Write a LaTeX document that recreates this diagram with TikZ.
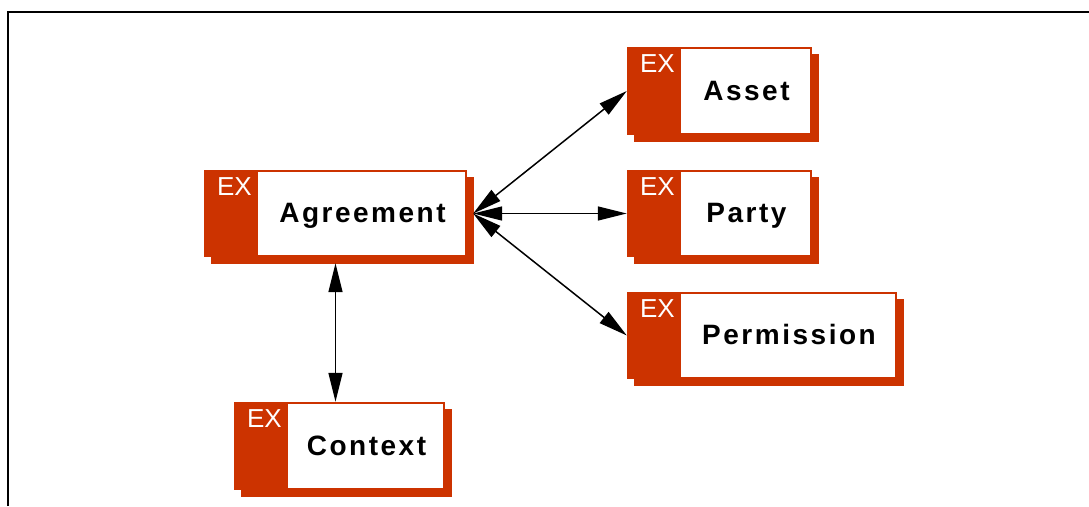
\documentclass[tikz,border=0pt]{standalone}
\usepackage{fontspec}
\setmainfont{Liberation Sans}
\usepackage{xcolor}
\usepackage{tikz}
\usetikzlibrary{arrows.meta, shadows}

\definecolor{exred}{RGB}{204,51,0}

\tikzset{
  exbox/.style={rectangle, fill=exred, inner sep=0pt, minimum height=87pt,
    drop shadow={shadow xshift=7pt, shadow yshift=-7pt, fill=exred, opacity=1},
    path picture={
      \fill[white] ([xshift=54pt,yshift=-2pt]path picture bounding box.north west)
        rectangle ([xshift=-2pt,yshift=2pt]path picture bounding box.south east);
    }},
  extag/.style={anchor=base west, inner sep=0pt, text=white, font=\fontsize{26}{26}\selectfont},
  lbltext/.style={anchor=base, inner sep=0pt,
    font=\bfseries\fontsize{28}{28}\selectfont\addfontfeature{LetterSpace=9}},
  link/.style={{Triangle[length=29pt,width=14pt]}-{Triangle[length=29pt,width=14pt]}, line width=1.5pt},
}

\begin{document}
\begin{tikzpicture}[x=1pt, y=-1pt]
\useasboundingbox (0,0) rectangle (1089,506);

% Moldura cortada (so topo e lado esquerdo):
\draw[line width=2pt] (8,506) -- (8,12) -- (1089,12);

% Caixa central:
\node[exbox, minimum width=263pt] (agreement) at (335.5,213.5) {};
\node[extag] (agreementex) at ([xshift=13pt,yshift=-26pt]agreement.north west) {EX};
\node[lbltext] (agreementtxt) at ([xshift=27pt,yshift=-8.5pt]agreement.center) {Agreement};

% Caixas da direita:
\node[exbox, minimum width=185pt, minimum height=88pt] (asset) at (719.5,91) {};
\node[extag] (assetex) at ([xshift=13pt,yshift=-26pt]asset.north west) {EX};
\node[lbltext] (assettxt) at ([xshift=27pt,yshift=-9pt]asset.center) {Asset};

\node[exbox, minimum width=185pt] (party) at (719.5,213.5) {};
\node[extag] (partyex) at ([xshift=13pt,yshift=-26pt]party.north west) {EX};
\node[lbltext] (partytxt) at ([xshift=27pt,yshift=-8.5pt]party.center) {Party};

\node[exbox, minimum width=270pt] (permission) at (762,335.5) {};
\node[extag] (permissionex) at ([xshift=13pt,yshift=-26pt]permission.north west) {EX};
\node[lbltext] (permissiontxt) at ([xshift=27pt,yshift=-8.5pt]permission.center) {Permission};

% Caixa de baixo:
\node[exbox, minimum width=211pt, minimum height=88pt] (context) at (339.5,446) {};
\node[extag] (contextex) at ([xshift=13pt,yshift=-26pt]context.north west) {EX};
\node[lbltext] (contexttxt) at ([xshift=27pt,yshift=-9pt]context.center) {Context};

% Ligacoes nos dois sentidos:
\draw[link] ([xshift=6pt]agreement.east) -- (asset.west);
\draw[link] ([xshift=6pt]agreement.east) -- (party.west);
\draw[link] ([xshift=6pt]agreement.east) -- (permission.west);
\draw[link] ([yshift=-6pt]agreement.south) -- (agreement.south |- context.north);
\end{tikzpicture}
\end{document}
